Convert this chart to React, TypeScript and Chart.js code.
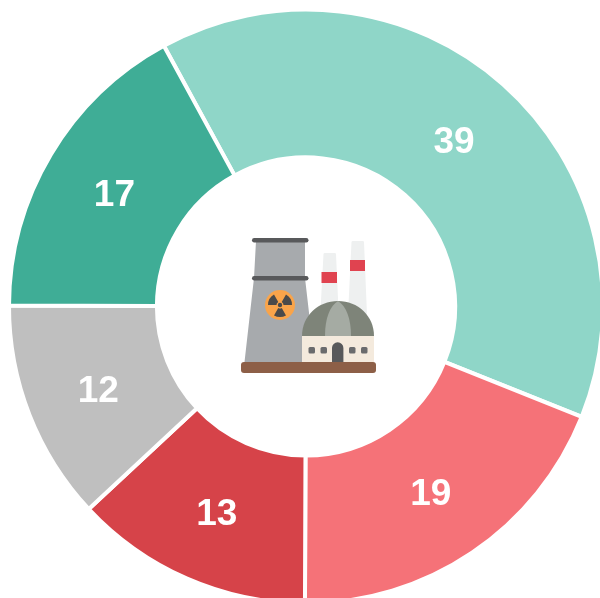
import React, { useEffect, useRef } from "react";
import { Chart, registerables } from "chart.js";

Chart.register(...registerables);

const categories = ["A", "B", "C", "D", "E"];
const values = [39, 19, 13, 12, 17];
const colors = ["#8FD6C8", "#F57278", "#D64349", "#BFBFBF", "#3FAD96"];

const labelPlugin = {
  id: "sliceLabels",
  afterDatasetsDraw(chart: any) {
    const { ctx } = chart;
    ctx.save();
    ctx.fillStyle = "#ffffff";
    ctx.font = 'bold 37px "Liberation Sans", Arial, sans-serif';
    ctx.textAlign = "center";
    ctx.textBaseline = "middle";
    chart.getDatasetMeta(0).data.forEach((arc: any, i: number) => {
      const p = arc.tooltipPosition();
      ctx.fillText(String(values[i]), p.x, p.y + 3.5);
    });
    ctx.restore();
  },
};

function wedge(cx: number, cy: number, r0: number, r1: number, a0: number, a1: number) {
  const pt = (r: number, a: number) => {
    const t = (a * Math.PI) / 180;
    return `${(cx + r * Math.sin(t)).toFixed(2)} ${(cy - r * Math.cos(t)).toFixed(2)}`;
  };
  return `M${pt(r0, a0)} L${pt(r1, a0)} A${r1} ${r1} 0 0 1 ${pt(r1, a1)} L${pt(r0, a1)} A${r0} ${r0} 0 0 0 ${pt(r0, a0)} Z`;
}

function PlantIcon() {
  const dark = "#58595B";
  return (
    <svg width={600} height={598} viewBox="0 0 600 598" style={{ position: "absolute", left: 0, top: 0, pointerEvents: "none" }}>
      <path d="M323.5 254 Q323.5 253 325 253 L334.5 253 Q336 253 336 254 L338.5 310 L320.5 310 Z" fill="#EEF0F0" />
      <rect x={321.5} y={272} width={15.5} height={11} fill="#E04350" />
      <path d="M351.5 242 Q351.5 241 353 241 L362.5 241 Q364 241 364 242 L367 315 L348 315 Z" fill="#EEF0F0" />
      <rect x={350} y={260} width={15} height={11} fill="#E04350" />

      <path d="M256 241 H305 V278 L311 330 L311 362 H244.5 L254 278 Z" fill="#A7AAAD" />
      <rect x={252} y={238} width={56.5} height={4.5} rx={2.2} fill={dark} />
      <rect x={252} y={276} width={56.5} height={4.5} rx={2.2} fill={dark} />

      <circle cx={280} cy={305} r={15} fill="#F9A44A" />
      <path d={wedge(280, 305, 3.5, 12, -30, 30)} fill="#4A4A4A" transform="rotate(-60 280 305)" />
      <path d={wedge(280, 305, 3.5, 12, -30, 30)} fill="#4A4A4A" transform="rotate(60 280 305)" />
      <path d={wedge(280, 305, 3.5, 12, -30, 30)} fill="#4A4A4A" transform="rotate(180 280 305)" />
      <circle cx={280} cy={305} r={2.2} fill="#4A4A4A" />

      <path d="M302 336 C302 316 318 301 338 301 C358 301 374 316 374 336 Z" fill="#7E8479" />
      <path d="M325 336 C325 318 330 306 338 301 C346 306 351 318 351 336 Z" fill="#A5ABA3" />
      <rect x={302} y={336} width={72} height={27} fill="#F4EADD" />
      <path d="M332 362 V348 A5.7 5.7 0 0 1 343.4 348 V362 Z" fill={dark} />
      {[308.5, 320.5, 349, 361].map((x) => (
        <rect key={x} x={x} y={347} width={6.5} height={6.5} rx={1.5} fill="#6A6B6D" />
      ))}
      <rect x={241} y={362} width={135} height={11} rx={3} fill="#8D5F47" />
    </svg>
  );
}

export default function App() {
  const ref = useRef<HTMLCanvasElement>(null);
  useEffect(() => {
    const chart = new Chart(ref.current!, {
      type: "doughnut",
      data: {
        labels: categories,
        datasets: [
          {
            data: values,
            backgroundColor: colors,
            borderColor: "#ffffff",
            borderWidth: 4,
          },
        ],
      },
      options: {
        responsive: false,
        animation: false,
        rotation: -28.6,
        cutout: "50.2%",
        layout: { padding: 7 },
        plugins: { legend: { display: false }, tooltip: { enabled: false } },
      },
      plugins: [labelPlugin],
    } as any);
    return () => chart.destroy();
  }, []);
  return (
    <div style={{ position: "fixed", left: 0, top: 0, width: 600, height: 598, overflow: "hidden", background: "#fff" }}>
      <canvas ref={ref} width={612} height={613} style={{ display: "block", position: "absolute", left: 0, top: 0 }} />
      <PlantIcon />
    </div>
  );
}
